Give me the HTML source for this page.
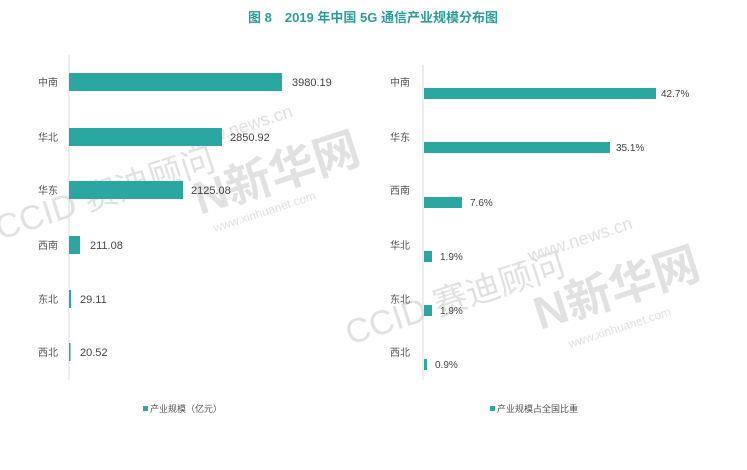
<!DOCTYPE html>
<html><head><meta charset="utf-8"><style>
body{margin:0;width:747px;height:465px;background:#fff;overflow:hidden;font-family:"Liberation Sans","Noto Sans CJK SC",sans-serif;}
</style></head><body>
<svg width="747" height="465" xmlns="http://www.w3.org/2000/svg" font-family="Liberation Sans, Noto Sans CJK SC, sans-serif">
<text x="373" y="22" text-anchor="middle" font-size="13" font-weight="bold" fill="#2a9d99">图 8　2019 年中国 5G 通信产业规模分布图</text>
<!-- watermarks -->
<g opacity="0.18" fill="#555">
<text x="190" y="150" font-size="18" transform="rotate(-18 190 150)">www.news.cn</text>
<text x="200" y="215" font-size="46" font-weight="bold" transform="rotate(-18 200 215)">N新华网</text>
<text x="215" y="232" font-size="12" transform="rotate(-18 215 232)">www.xinhuanet.com</text>
<text x="0" y="240" font-size="34" transform="rotate(-18 0 240)">CCID 赛迪顾问</text>
<text x="530" y="262" font-size="18" transform="rotate(-18 530 262)">www.news.cn</text>
<text x="540" y="330" font-size="46" font-weight="bold" transform="rotate(-18 540 330)">N新华网</text>
<text x="570" y="348" font-size="12" transform="rotate(-18 570 348)">www.xinhuanet.com</text>
<text x="350" y="345" font-size="34" transform="rotate(-18 350 345)">CCID 赛迪顾问</text>
</g>
<!-- left -->
<line x1="69" y1="55" x2="69" y2="380" stroke="#ddd"/>
<g font-size="10" fill="#555">
<text x="38" y="86">中南</text><text x="38" y="141">华北</text><text x="38" y="194">华东</text>
<text x="38" y="249">西南</text><text x="38" y="303">东北</text><text x="38" y="356">西北</text>
</g>
<g fill="#2aa7a0">
<rect x="69" y="73" width="213" height="18"/>
<rect x="69" y="128" width="153" height="18"/>
<rect x="69" y="181" width="114" height="18"/>
<rect x="69" y="236" width="11" height="18"/>
<rect x="69" y="290" width="2" height="18"/>
<rect x="69" y="343" width="1.5" height="18"/>
</g>
<g font-size="11" fill="#444">
<text x="292" y="86">3980.19</text><text x="230" y="141">2850.92</text><text x="191" y="194">2125.08</text>
<text x="90" y="249">211.08</text><text x="80" y="303">29.11</text><text x="80" y="356">20.52</text>
</g>
<rect x="143" y="406" width="5" height="5" fill="#2aa7a0"/>
<text x="150" y="412" font-size="9" fill="#555">产业规模（亿元）</text>
<!-- right -->
<line x1="423" y1="65" x2="423" y2="380" stroke="#ddd"/>
<g font-size="10" fill="#555">
<text x="390" y="86">中南</text><text x="390" y="141">华东</text><text x="390" y="194">西南</text>
<text x="390" y="249">华北</text><text x="390" y="303">东北</text><text x="390" y="356">西北</text>
</g>
<g fill="#2aa7a0">
<rect x="424" y="88" width="232" height="11"/>
<rect x="424" y="142" width="186" height="11"/>
<rect x="424" y="197" width="38" height="11"/>
<rect x="424" y="251" width="8" height="11"/>
<rect x="424" y="305" width="8" height="11"/>
<rect x="424" y="359" width="3" height="11"/>
</g>
<g font-size="10" fill="#444">
<text x="661" y="97">42.7%</text><text x="616" y="151">35.1%</text><text x="470" y="206">7.6%</text>
<text x="440" y="260">1.9%</text><text x="440" y="314">1.9%</text><text x="435" y="368">0.9%</text>
</g>
<rect x="490" y="406" width="5" height="5" fill="#2aa7a0"/>
<text x="497" y="412" font-size="9" fill="#555">产业规模占全国比重</text>
</svg>
</body></html>
